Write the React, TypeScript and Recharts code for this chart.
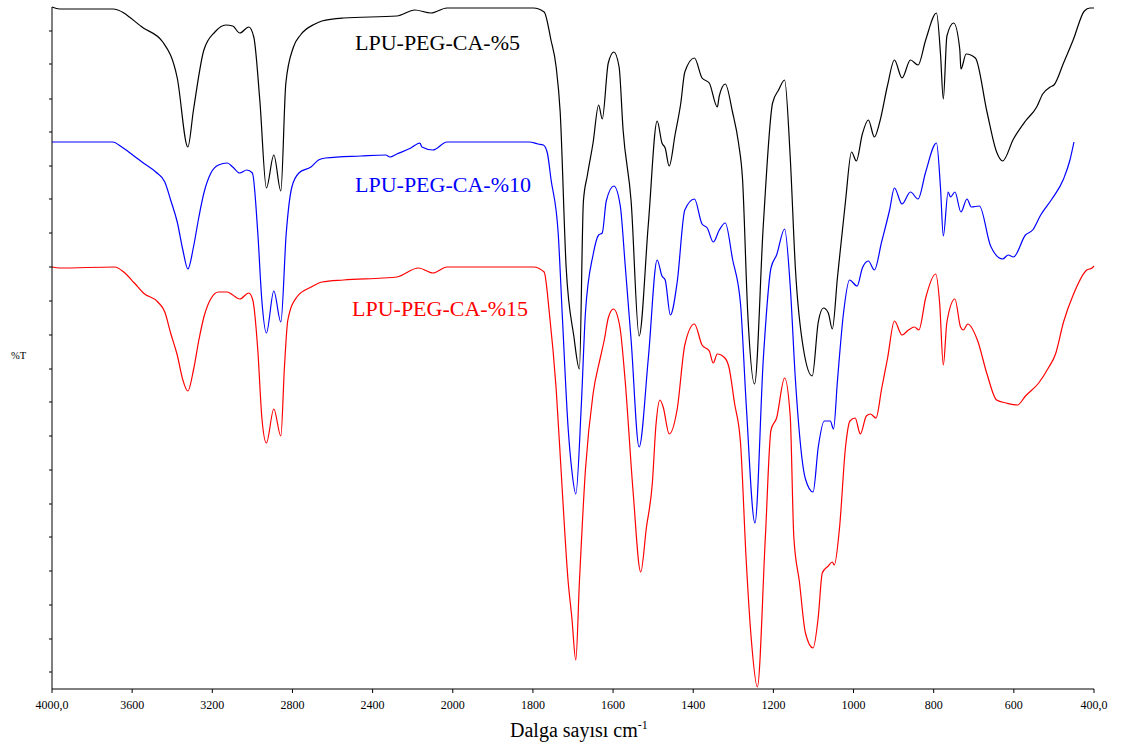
import { LineChart, Line, XAxis, YAxis } from "recharts"

// [wavenumber cm-1, %T (arbitrary units, 0 = bottom of plot)]
const lpu5: [number, number][] = [
  [4000, 682], [3962, 680], [3697, 680], [3544, 661], [3447, 647], [3375, 611], [3322, 542],
  [3294, 579], [3242, 639], [3187, 657], [3133, 664], [3098, 663], [3063, 656], [3018, 662],
  [2993, 652], [2963, 589], [2930, 501], [2893, 534], [2858, 498], [2833, 606], [2795, 642],
  [2760, 654], [2688, 665], [2653, 668], [2545, 671], [2279, 673], [2189, 679], [2109, 676],
  [2029, 681], [1960, 681], [1799, 681], [1772, 677], [1755, 649], [1742, 622], [1732, 577],
  [1717, 421], [1698, 353], [1684, 320], [1674, 488], [1664, 514], [1650, 546], [1636, 584],
  [1627, 570], [1612, 626], [1598, 637], [1585, 622], [1575, 559], [1555, 488], [1535, 353],
  [1512, 465], [1490, 568], [1478, 546], [1470, 541], [1460, 523], [1445, 555], [1431, 586],
  [1421, 617], [1397, 631], [1378, 611], [1360, 606], [1340, 582], [1335, 593], [1320, 605],
  [1302, 577], [1287, 546], [1277, 510], [1264, 376], [1247, 305], [1225, 465], [1202, 586],
  [1187, 599], [1172, 609], [1158, 532], [1145, 420], [1125, 340], [1103, 313], [1088, 367],
  [1075, 381], [1063, 376], [1053, 360], [1040, 412], [1020, 488], [1005, 537], [993, 528],
  [978, 555], [963, 569], [948, 552], [934, 568], [915, 604], [898, 629], [879, 611],
  [858, 629], [839, 624], [820, 649], [793, 676], [783, 635], [776, 590], [767, 653],
  [750, 666], [735, 640], [732, 620], [719, 635], [696, 631], [667, 577], [643, 537],
  [628, 528], [601, 550], [571, 568], [543, 582], [528, 595], [509, 602], [500, 604],
  [476, 626], [452, 649], [424, 678], [410, 681], [400, 681],
]

const lpu10: [number, number][] = [
  [4000, 547], [3697, 547], [3652, 542], [3597, 534], [3544, 526], [3482, 517], [3437, 507],
  [3408, 489], [3375, 467], [3347, 439], [3322, 420], [3294, 442], [3267, 472], [3242, 496],
  [3207, 516], [3169, 524], [3125, 526], [3098, 522], [3063, 516], [3028, 519], [3000, 516],
  [2973, 456], [2953, 389], [2930, 356], [2893, 398], [2858, 367], [2831, 456], [2803, 502],
  [2768, 516], [2708, 522], [2670, 529], [2635, 531], [2458, 533], [2334, 534], [2314, 532],
  [2279, 535], [2209, 541], [2164, 546], [2154, 542], [2099, 539], [2029, 547], [1960, 547],
  [1809, 547], [1787, 545], [1774, 544], [1764, 536], [1755, 510], [1737, 456], [1727, 376],
  [1712, 260], [1703, 219], [1693, 195], [1679, 286], [1669, 376], [1650, 434], [1636, 454],
  [1627, 456], [1617, 488], [1598, 503], [1582, 483], [1570, 425], [1555, 349], [1535, 242],
  [1512, 331], [1490, 429], [1478, 413], [1470, 409], [1457, 374], [1440, 407], [1421, 479],
  [1397, 490], [1378, 465], [1365, 461], [1350, 447], [1335, 459], [1320, 466], [1302, 430],
  [1282, 385], [1268, 286], [1246, 166], [1225, 331], [1206, 421], [1192, 434], [1172, 460],
  [1158, 403], [1145, 309], [1120, 210], [1101, 197], [1088, 242], [1073, 268], [1058, 268],
  [1050, 260], [1040, 309], [1025, 376], [1010, 409], [991, 403], [978, 421], [963, 428],
  [948, 419], [930, 447], [910, 479], [898, 501], [879, 485], [858, 497], [839, 490],
  [820, 517], [793, 546], [783, 501], [776, 453], [764, 497], [758, 492], [747, 497],
  [732, 477], [717, 490], [706, 482], [686, 483], [658, 443], [628, 430], [614, 434],
  [601, 432], [571, 454], [553, 459], [533, 474], [505, 490], [476, 510], [460, 529], [450, 547],
]

const lpu15: [number, number][] = [
  [4000, 422], [3962, 421], [3687, 422], [3642, 417], [3589, 406], [3544, 396], [3472, 387],
  [3437, 377], [3408, 356], [3375, 334], [3347, 309], [3322, 298], [3294, 319], [3267, 349],
  [3242, 372], [3205, 391], [3169, 397], [3125, 397], [3098, 394], [3063, 390], [3018, 396],
  [2998, 389], [2973, 339], [2953, 272], [2930, 246], [2893, 280], [2858, 253], [2840, 322],
  [2823, 369], [2778, 392], [2706, 402], [2653, 407], [2545, 409], [2349, 411], [2279, 412],
  [2171, 421], [2099, 416], [2029, 422], [1960, 422], [1799, 422], [1772, 417], [1759, 376],
  [1742, 300], [1727, 200], [1712, 107], [1703, 72], [1693, 29], [1684, 107], [1669, 219],
  [1650, 295], [1632, 331], [1622, 349], [1612, 371], [1599, 380], [1583, 362], [1570, 309],
  [1550, 197], [1531, 117], [1517, 161], [1502, 206], [1493, 264], [1483, 289], [1475, 282],
  [1460, 255], [1440, 280], [1421, 344], [1397, 365], [1378, 344], [1360, 338], [1350, 326],
  [1340, 335], [1321, 331], [1311, 322], [1297, 286], [1282, 246], [1268, 130], [1255, 49],
  [1240, 2], [1220, 152], [1206, 259], [1192, 271], [1172, 311], [1158, 273], [1149, 152],
  [1135, 107], [1120, 56], [1101, 41], [1088, 72], [1078, 116], [1063, 123], [1053, 127],
  [1048, 124], [1035, 161], [1020, 242], [1009, 268], [996, 271], [983, 255], [968, 273],
  [958, 275], [944, 271], [930, 300], [915, 331], [898, 368], [879, 354], [863, 359],
  [848, 362], [837, 359], [820, 391], [795, 415], [785, 385], [776, 324], [767, 367],
  [747, 390], [733, 362], [726, 359], [715, 365], [691, 349], [667, 315], [643, 289],
  [619, 286], [591, 284], [571, 293], [538, 306], [514, 321], [496, 335], [476, 367],
  [452, 394], [418, 419], [405, 421], [400, 423],
]

const xTickLabels = ["4000,0", "3600", "3200", "2800", "2400", "2000", "1800", "1600", "1400", "1200", "1000", "800", "600", "400,0"]
const yTicks = [17, 50, 84, 118, 152, 185, 219, 253, 287, 320, 354, 388, 422, 456, 490, 523, 557, 590, 625, 658]

const seriesNames = ["LPU-PEG-CA-%5", "LPU-PEG-CA-%10", "LPU-PEG-CA-%15"]
const seriesColors = ["#000000", "#0000ff", "#ff0000"]

// split x scale: 400 cm-1 per tick above 2000, 200 per tick below
const toPos = (wn: number) => (wn >= 2000 ? (4000 - wn) / 400 : 5 + (2000 - wn) / 200)
const build = (arr: [number, number][]) => arr.map(([wn, t]) => ({ x: toPos(wn), t }))

const serif = "'Liberation Serif', 'Times New Roman', serif"

export default function App() {
  const series = [lpu5, lpu10, lpu15].map(build)
  return (
    <div style={{ position: "absolute", left: 0, top: 0, width: 1125, height: 749, background: "#fff" }}>
      <LineChart width={1125} height={749} margin={{ top: 7, right: 31, bottom: 0, left: 0 }}>
        <XAxis
          dataKey="x"
          type="number"
          domain={[0, 13]}
          ticks={xTickLabels.map((_, i) => i)}
          interval={0}
          tickFormatter={(v: number) => xTickLabels[v]}
          height={60}
          tickSize={4}
          tickMargin={7}
          stroke="#000"
          tick={{ fill: "#000", fontSize: 12, fontFamily: serif }}
        />
        <YAxis
          type="number"
          domain={[0, 682]}
          ticks={yTicks}
          interval={0}
          tickFormatter={() => ""}
          width={52}
          tickSize={3}
          stroke="#000"
        />
        {series.map((d, i) => (
          <Line
            key={seriesNames[i]}
            data={d}
            dataKey="t"
            name={seriesNames[i]}
            type="monotone"
            stroke={seriesColors[i]}
            strokeWidth={1.2}
            dot={false}
            activeDot={false}
            isAnimationActive={false}
          />
        ))}
      </LineChart>
      <svg width={1125} height={749} style={{ position: "absolute", left: 0, top: 0, pointerEvents: "none" }}>
        <g fontFamily={serif}>
          <text x={355} y={50} fontSize={22} fill={seriesColors[0]}>{seriesNames[0]}</text>
          <text x={355} y={192} fontSize={22} fill={seriesColors[1]}>{seriesNames[1]}</text>
          <text x={352} y={316} fontSize={22} fill={seriesColors[2]}>{seriesNames[2]}</text>
          <text x={11} y={359} fontSize={10.5} fill="#000">%T</text>
          <text x={510} y={737} fontSize={20} fill="#000">
            Dalga sayısı cm<tspan dy={-8} fontSize={12}>-1</tspan>
          </text>
        </g>
      </svg>
    </div>
  )
}
